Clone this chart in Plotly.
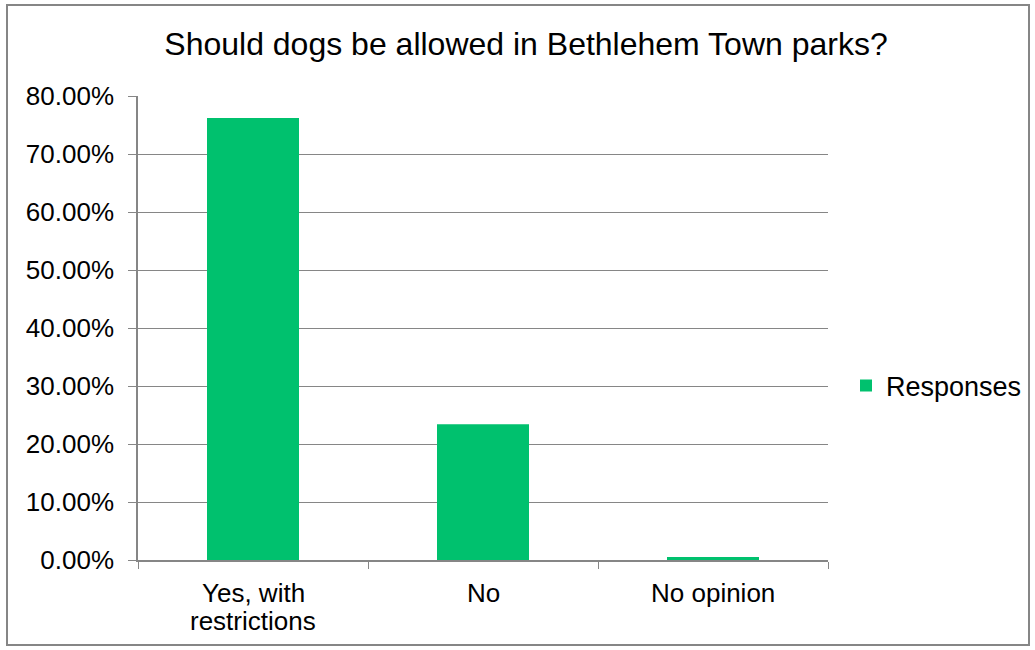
import plotly.graph_objects as go

categories = ["Yes, with\nrestrictions", "No", "No opinion"]
responses = [0.762, 0.234, 0.005]
y_ticks = [0, 0.1, 0.2, 0.3, 0.4, 0.5, 0.6, 0.7, 0.8]

W, H = 1035, 650
L, R, T, B = 138, 207, 96, 90
pw, ph = W - L - R, H - T - B

def px_x(p):
    return (p - L) / pw

def px_y(p):
    return (H - B - p) / ph

fig = go.Figure()
fig.add_trace(go.Bar(
    x=categories, y=responses, name="Responses",
    marker=dict(color="#00C16E", line=dict(width=0)),
    width=0.4, showlegend=True,
))

# category labels, one annotation per text line for tighter line spacing
annotations = []
for cat in categories:
    for i, line in enumerate(cat.split("\n")):
        annotations.append(dict(
            x=cat, y=0, xref="x", yref="y", text=line, showarrow=False,
            xanchor="center", yanchor="top", yshift=-16 - 28 * i,
            font=dict(size=26, color="black"),
        ))

fig.update_layout(
    width=W, height=H,
    margin=dict(l=L, r=R, t=T, b=B, autoexpand=False),
    paper_bgcolor="white", plot_bgcolor="white",
    font=dict(family="Arial, Liberation Sans, sans-serif", size=26, color="black"),
    title=dict(text="Should dogs be allowed in Bethlehem Town parks?",
               x=526 / W, xanchor="center", y=1 - 44 / H, yanchor="middle",
               font=dict(size=32, color="black")),
    showlegend=True,
    legend=dict(x=px_x(846), y=px_y(386), xanchor="left", yanchor="middle",
                font=dict(size=27), bgcolor="rgba(0,0,0,0)",
                itemwidth=30),
    bargap=0.6,
    annotations=annotations,
    shapes=[dict(type="rect", xref="paper", yref="paper",
                 x0=px_x(7), x1=px_x(1029), y0=px_y(645), y1=px_y(5),
                 line=dict(color="#868686", width=2), fillcolor="rgba(0,0,0,0)",
                 layer="below")],
)
fig.update_xaxes(
    showline=True, linecolor="#868686", linewidth=1.5,
    ticks="outside", tickson="boundaries", ticklen=7, tickcolor="#868686",
    showgrid=False, showticklabels=False,
)
fig.update_yaxes(
    range=[0, 0.8], tickvals=y_ticks, tickformat=".2%",
    showline=True, linecolor="#868686", linewidth=1.5,
    ticks="outside", ticklen=8, tickcolor="#868686",
    showgrid=True, gridcolor="#868686", gridwidth=1,
    tickfont=dict(size=26), zeroline=False, ticklabelstandoff=9,
)
fig.write_html("out.html", post_script="document.body.style.margin='0';",
               config={"displayModeBar": False})
